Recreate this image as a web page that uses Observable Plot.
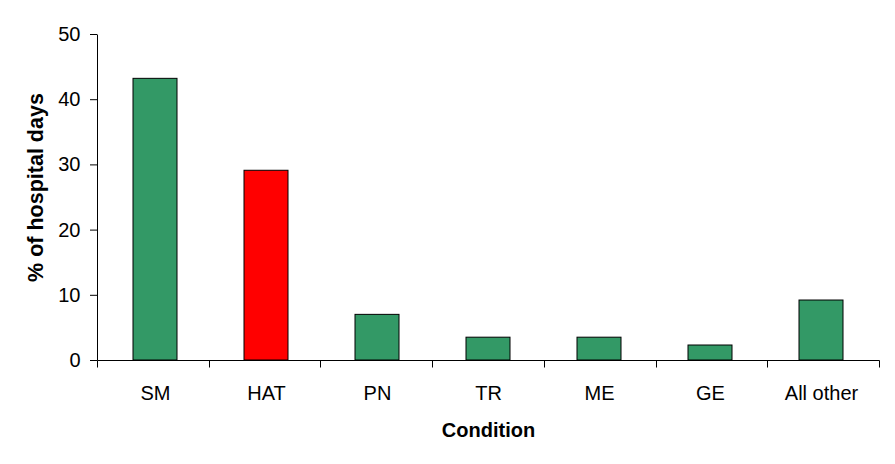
<!DOCTYPE html>
<html>
<head>
<meta charset="utf-8">
<script src="https://cdn.jsdelivr.net/npm/d3@7"></script>
<script src="https://cdn.jsdelivr.net/npm/@observablehq/plot@0.6"></script>
<style>
  html, body { margin: 0; padding: 0; background: #fff; }
  #chart svg { font-family: Arial, "Liberation Sans", sans-serif; }
</style>
</head>
<body>
<div id="chart"></div>
<script>
const conditions = ["SM", "HAT", "PN", "TR", "ME", "GE", "All other"];
const percentDays = [43.2, 29.1, 7.0, 3.5, 3.5, 2.3, 9.2];
const barColors = ["#339966", "#ff0000", "#339966", "#339966", "#339966", "#339966", "#339966"];
const yTicks = [0, 10, 20, 30, 40, 50];
const xTitle = "Condition";
const yTitle = "% of hospital days";

const data = conditions.map((c, i) => ({condition: c, value: percentDays[i], color: barColors[i]}));

// Axis lines and category boundary ticks, positioned from the plot's own dimensions/scales
function axisFrame(index, scales, values, dimensions) {
  const {width, marginLeft, marginRight} = dimensions;
  const yTop = scales.y(yTicks[yTicks.length - 1]);
  const yBase = scales.y(0);
  const x0 = marginLeft, x1 = width - marginRight;
  const n = conditions.length;
  const step = (x1 - x0) / n;
  const g = d3.create("svg:g")
    .attr("stroke", "black")
    .attr("fill", "none")
    .attr("transform", "translate(0.5,0.5)");
  g.append("line").attr("x1", x0).attr("x2", x0).attr("y1", yTop).attr("y2", yBase);
  g.append("line").attr("x1", x0).attr("x2", x1).attr("y1", yBase).attr("y2", yBase);
  d3.range(n + 1).forEach(i => {
    const xx = Math.round(x0 + i * step);
    g.append("line").attr("x1", xx).attr("x2", xx).attr("y1", yBase).attr("y2", yBase + 7);
  });
  return g.node();
}

const chart = Plot.plot({
  width: 895,
  height: 464,
  marginLeft: 97,
  marginRight: 16,
  marginTop: 34,
  marginBottom: 104,
  style: {fontFamily: "Arial, 'Liberation Sans', sans-serif", color: "black", background: "white"},
  x: {domain: conditions, paddingInner: 0.6, paddingOuter: 0.3, axis: null},
  y: {domain: [0, 50], axis: null},
  color: {type: "identity"},
  marks: [
    Plot.barY(data, {x: "condition", y: "value", fill: "color", stroke: "black", strokeWidth: 1}),
    Plot.axisY({ticks: yTicks, tickSize: 7, tickPadding: 10, fontSize: 20, label: null, stroke: "black", fill: "black"}),
    axisFrame,
    Plot.text(conditions, {x: d => d, frameAnchor: "bottom", dy: 33, fontSize: 20, fill: "black", lineAnchor: "middle"}),
    Plot.text([xTitle], {frameAnchor: "bottom", dy: 70, fontSize: 20, fontWeight: "bold", fill: "black", lineAnchor: "middle"}),
    Plot.text([yTitle], {frameAnchor: "left", textAnchor: "middle", dx: -61, dy: -10, rotate: -90, fontSize: 21.5, fontWeight: "bold", fill: "black", lineAnchor: "middle"})
  ]
});

document.getElementById("chart").appendChild(chart);
</script>
</body>
</html>
